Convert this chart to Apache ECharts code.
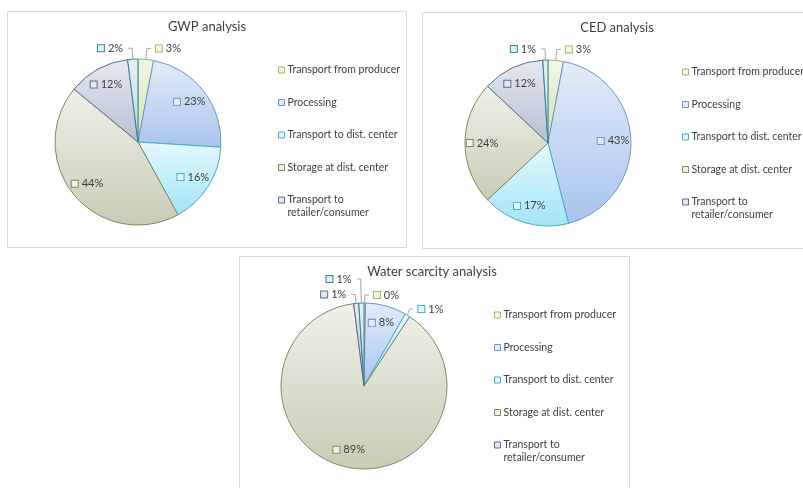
<!DOCTYPE html>
<html>
<head>
<meta charset="utf-8">
<script src="https://cdn.jsdelivr.net/npm/echarts@6/dist/echarts.min.js"></script>
<style>
  html, body { margin: 0; padding: 0; background: #ffffff; }
  #chart { width: 803px; height: 488px; }
</style>
</head>
<body>
<div id="chart"></div>
<script>
// Life-cycle stages (slice order, clockwise from 12 o'clock)
const stages = [
  'Transport from producer',
  'Processing',
  'Transport to dist. center',
  'Storage at dist. center',
  'Transport to retailer/consumer',
  'Other'
];
// Share of each stage, in percent
const gwpValues   = [3, 23, 16, 44, 12, 2];
const cedValues   = [3, 43, 17, 24, 12, 1];
const waterValues = [0.3, 8, 1, 89, 1, 1];
const chartTitles = ['GWP analysis', 'CED analysis', 'Water scarcity analysis'];
// Stages listed in the legends
const legendStages = stages.slice(0, 5);
// Small slices get their label outside the pie
const outsideLimit = 5;

// Office-style gradient fills: light top, deeper bottom, darker outline
const palette = [
  { top: '#f2f7e8', bottom: '#d2e3b0', edge: '#9bbb59' },
  { top: '#e3ecf9', bottom: '#a9c4ee', edge: '#6f95cc' },
  { top: '#e4f9fe', bottom: '#a2e4f6', edge: '#4bacc6' },
  { top: '#f0f1ea', bottom: '#c7ccb5', edge: '#7f8a5b' },
  { top: '#e6e9f0', bottom: '#b7bfd2', edge: '#586c92' },
  { top: '#e4f0f3', bottom: '#bcd9e1', edge: '#31859c' }
];

const FONT = 'Lato, "Open Sans", sans-serif';
const TEXT = '#404040';

// Leader-line length per slice (outside labels only)
const panels = [
  { values: gwpValues,   title: chartTitles[0], box: [7.5, 11.5, 399, 236],  center: [138, 142], titleX: 207, titleY: 20,  legendX: 278, legendY: 70,
    leader: [11, 11, 11, 11, 11, 11] },
  { values: cedValues,   title: chartTitles[1], box: [422.5, 12.5, 400, 236], center: [548, 143], titleX: 617, titleY: 21,  legendX: 682, legendY: 72,
    leader: [11, 11, 11, 11, 11, 11] },
  { values: waterValues, title: chartTitles[2], box: [239.5, 256.5, 390, 240], center: [364, 386], titleX: 432, titleY: 265, legendX: 494, legendY: 315,
    leader: [8, 11, 11, 11, 9, 24] }
];
const R = 83;
const LEGEND_STEP = 32.5;
const LINE_H = 13;

function sliceFill(i) {
  return {
    type: 'linear', x: 0, y: 0, x2: 0, y2: 1,
    colorStops: [
      { offset: 0, color: palette[i].top },
      { offset: 1, color: palette[i].bottom }
    ]
  };
}

const labelRich = {};
palette.forEach((p, i) => {
  labelRich['s' + i] = {
    width: 6, height: 6,
    backgroundColor: p.top,
    borderColor: p.edge,
    borderWidth: 1
  };
});
labelRich.v = { fontFamily: FONT, fontSize: 11, color: TEXT, padding: [0, 0, 0, 4] };

const title = [], legend = [], series = [], graphic = [];

function legendItem(i) {
  return {
    name: legendStages[i],
    itemStyle: { color: palette[i].top, borderColor: palette[i].edge, borderWidth: 1 }
  };
}

panels.forEach((pn) => {
  graphic.push({
    type: 'rect', silent: true, z: -1,
    shape: { x: pn.box[0], y: pn.box[1], width: pn.box[2], height: pn.box[3] },
    style: { fill: 'none', stroke: '#d9d9d9', lineWidth: 1 }
  });

  title.push({
    text: pn.title, left: pn.titleX, top: pn.titleY, textAlign: 'center', padding: 0,
    textStyle: { fontFamily: FONT, fontSize: 13, fontWeight: 'normal', color: TEXT }
  });

  const legendBase = {
    orient: 'vertical', left: pn.legendX, padding: 0,
    icon: 'rect', itemWidth: 6, itemHeight: 6, itemGap: LEGEND_STEP - LINE_H,
    selectedMode: false,
    textStyle: { fontFamily: FONT, fontSize: 10.5, color: TEXT, lineHeight: LINE_H, padding: [0, 0, 0, -2] }
  };
  legend.push(Object.assign({}, legendBase, {
    top: pn.legendY - LINE_H / 2,
    data: [0, 1, 2, 3].map(legendItem)
  }));
  // Last entry wraps onto a second line under its first line
  legend.push(Object.assign({}, legendBase, {
    top: pn.legendY + 4 * LEGEND_STEP - 1.5 * LINE_H,
    data: [legendItem(4)],
    formatter: () => '\nTransport to\nretailer/consumer'
  }));

  // Filled slices
  series.push({
    type: 'pie', name: pn.title + ' slices',
    center: pn.center, radius: [0, R],
    startAngle: 90, clockwise: true,
    avoidLabelOverlap: false, silent: true,
    label: { show: false }, labelLine: { show: false },
    emphasis: { disabled: true },
    data: pn.values.map((v, i) => ({
      name: stages[i], value: v,
      itemStyle: { color: sliceFill(i), borderColor: palette[i].edge, borderWidth: 1 }
    }))
  });

  // Transparent ring carrying the data labels at about 3/4 of the radius
  series.push({
    type: 'pie', name: pn.title + ' labels',
    center: pn.center, radius: [42, R],
    startAngle: 90, clockwise: true,
    silent: true, z: 3,
    emphasis: { disabled: true },
    itemStyle: { color: 'transparent', borderWidth: 0 },
    label: {
      show: true,
      formatter: p => '{s' + p.dataIndex + '|}{v|' + Math.round(p.value) + '%}',
      rich: labelRich
    },
    labelLine: { length: 11, length2: 4, lineStyle: { color: '#a6a6a6', width: 1 } },
    data: pn.values.map((v, i) => ({
      name: stages[i], value: v,
      label: { position: v < outsideLimit ? 'outside' : 'inside' },
      labelLine: { show: v < outsideLimit, length: pn.leader[i] }
    }))
  });
});

const chart = echarts.init(document.getElementById('chart'), null, { renderer: 'canvas' });
chart.setOption({
  animation: false,
  backgroundColor: '#ffffff',
  title, legend, series, graphic
});
</script>
</body>
</html>
